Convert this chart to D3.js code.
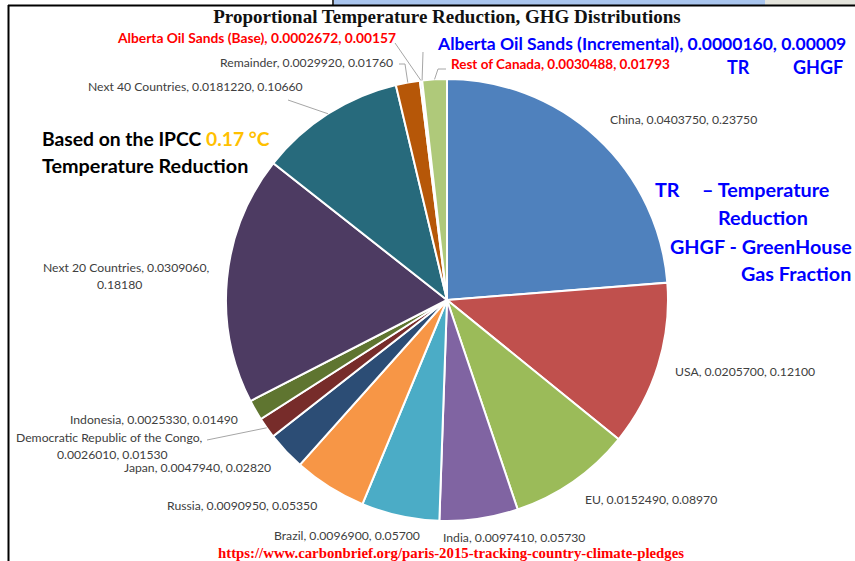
<!DOCTYPE html>
<html>
<head>
<meta charset="utf-8">
<script src="https://cdn.jsdelivr.net/npm/d3@7"></script>
<style>
  body { margin: 0; background: #fff; }
  svg { display: block; }
</style>
</head>
<body>
<div id="chart"></div>
<script>
// slices, clockwise from 12 o'clock
const names = ['China', 'USA', 'EU', 'India', 'Brazil', 'Russia', 'Japan',
  'Democratic Republic of the Congo', 'Indonesia', 'Next 20 Countries',
  'Next 40 Countries', 'Remainder', 'Alberta Oil Sands (Base)',
  'Alberta Oil Sands (Incremental)', 'Rest of Canada']
const tempReduction = [0.0403750, 0.0205700, 0.0152490, 0.0097410, 0.0096900, 0.0090950,
  0.0047940, 0.0026010, 0.0025330, 0.0309060, 0.0181220, 0.0029920, 0.0002672,
  0.0000160, 0.0030488]
const ghgFraction = [0.23750, 0.12100, 0.08970, 0.05730, 0.05700, 0.05350, 0.02820,
  0.01530, 0.01490, 0.18180, 0.10660, 0.01760, 0.00157, 0.00009, 0.01793]
const sliceColors = ['#4F81BD', '#C0504D', '#9BBB59', '#8064A2', '#4BACC6', '#F79646',
  '#2C4D75', '#772C2A', '#5F7530', '#4D3B62', '#276A7C', '#B65708', '#729ACA',
  '#CD7371', '#AFC97A']

const W = 855, H = 561
const cx = 447, cy = 300, R = 221

const svg = d3.select('#chart').append('svg')
  .attr('width', W)
  .attr('height', H)

// bits of the surrounding slide
svg.append('rect').attr('x', 334).attr('y', 0).attr('width', 431).attr('height', 5).attr('fill', '#a9c5ee')
svg.append('rect').attr('x', 765).attr('y', 0).attr('width', 90).attr('height', 5).attr('fill', '#e4e4dc')
svg.append('line').attr('x1', 333).attr('y1', 0).attr('x2', 333).attr('y2', 5).attr('stroke', '#000').attr('stroke-width', 1.5)
svg.append('line').attr('x1', 8).attr('y1', 5.5).attr('x2', W).attr('y2', 5.5).attr('stroke', '#000').attr('stroke-width', 2)
svg.append('line').attr('x1', 8.5).attr('y1', 5).attr('x2', 8.5).attr('y2', H).attr('stroke', '#000').attr('stroke-width', 2)

const pie = d3.pie().sort(null).value(d => d)
const arcs = pie(ghgFraction)
const arc = d3.arc().innerRadius(0).outerRadius(R)
const edge = d3.arc().innerRadius(R).outerRadius(R)

const g = svg.append('g').attr('transform', `translate(${cx},${cy})`)
g.selectAll('path')
  .data(arcs)
  .join('path')
  .attr('d', arc)
  .attr('fill', (d, i) => sliceColors[i])
  .attr('stroke', '#fff')
  .attr('stroke-width', 2)

// label placement: left x, middle y of first line, optional colour/size/weight and leader start
const labelPos = [
  { x: 610, y: 120 },
  { x: 675, y: 372 },
  { x: 585, y: 500 },
  { x: 443, y: 538 },
  { x: 274, y: 536 },
  { x: 167, y: 506 },
  { x: 124, y: 468 },
  { x: 16, y: 438, lines: ['Democratic Republic of the Congo,', '0.0026010, 0.01530'], dx2: 41, lead: [[207, 440]] },
  { x: 70, y: 420 },
  { x: 43, y: 268, lines: ['Next 20 Countries, 0.0309060,', '0.18180'], dx2: 54 },
  { x: 88, y: 87, lead: [[288, 100]] },
  { x: 220, y: 63, lead: [[399, 64], [405, 64]] },
  { x: 118, y: 38, color: '#FF0000', size: 13.8, weight: 'bold', lead: [[395, 43]] },
  { x: 438, y: 44, color: '#0000FF', size: 17.5, weight: 'bold', lead: [[423, 52]] },
  { x: 451, y: 64, color: '#FF0000', size: 13.5, weight: 'bold', lead: [[446, 69], [438, 69]] }
]

const labelFont = 'Lato, "Liberation Sans", sans-serif'

arcs.forEach((d, i) => {
  const p = labelPos[i]
  if (p.lead) {
    const e = edge.centroid(d)
    const pts = p.lead.concat([[e[0] + cx, e[1] + cy]])
    svg.append('path')
      .attr('d', d3.line()(pts))
      .attr('fill', 'none')
      .attr('stroke', '#a6a6a6')
      .attr('stroke-width', 1)
  }
  const lines = p.lines || [`${names[i]}, ${tempReduction[i].toFixed(7)}, ${ghgFraction[i].toFixed(5)}`]
  const t = svg.append('text')
    .attr('font-family', labelFont)
    .attr('font-size', p.size || 12.2)
    .attr('font-weight', p.weight || 'normal')
    .attr('fill', p.color || '#404040')
  lines.forEach((s, k) => {
    t.append('tspan')
      .attr('x', p.x + (k ? p.dx2 : 0))
      .attr('y', p.y + k * 16.5)
      .attr('dy', '0.35em')
      .text(s)
  })
})

// title and notes
svg.append('text')
  .attr('x', cx).attr('y', 23)
  .attr('text-anchor', 'middle')
  .attr('font-family', '"Liberation Serif", "Times New Roman", serif')
  .attr('font-weight', 'bold')
  .attr('font-size', 19)
  .attr('fill', '#111')
  .text('Proportional Temperature Reduction, GHG Distributions')

svg.append('text')
  .attr('x', 451).attr('y', 558)
  .attr('text-anchor', 'middle')
  .attr('font-family', '"Liberation Serif", "Times New Roman", serif')
  .attr('font-weight', 'bold')
  .attr('font-size', 14.8)
  .attr('fill', '#FF0000')
  .text('https://www.carbonbrief.org/paris-2015-tracking-country-climate-pledges')

const boldText = (x, y, size, color, parts) => {
  const t = svg.append('text')
    .attr('x', x).attr('y', y)
    .attr('dy', '0.35em')
    .attr('font-family', labelFont)
    .attr('font-weight', 'bold')
    .attr('font-size', size)
    .attr('fill', color)
  parts.forEach(([s, c]) => t.append('tspan').attr('fill', c || color).text(s))
  return t
}

boldText(42, 139, 19.3, '#000', [['Based on the IPCC '], ['0.17 °C', '#FFC000']])
boldText(42, 166, 19.8, '#000', [['Temperature Reduction']])

boldText(727, 68, 18, '#0000FF', [['TR']])
boldText(793, 68, 18, '#0000FF', [['GHGF']])

boldText(655, 190, 19.8, '#0000FF', [['TR']])
boldText(702, 190, 19.8, '#0000FF', [['– Temperature']])
boldText(718, 218, 19.8, '#0000FF', [['Reduction']])
boldText(670, 247, 19.8, '#0000FF', [['GHGF  - GreenHouse']])
boldText(741, 274, 19.8, '#0000FF', [['Gas Fraction']])
</script>
</body>
</html>
